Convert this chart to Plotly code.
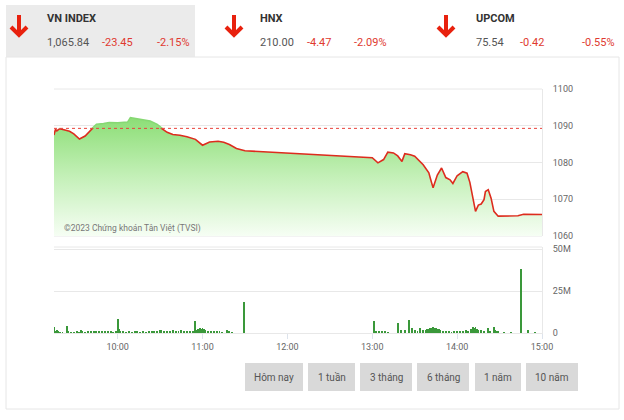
import plotly.graph_objects as go

DAY = "2023-10-05 "

# ---------------- data ----------------
ref_close = 1089.29

price_times = ["09:15","09:16","09:17","09:19","09:22","09:26","09:29","09:33","09:37","09:42",
               "09:45","09:50","09:54","10:00","10:07","10:09","10:13","10:17","10:23","10:28",
               "10:31","10:35","10:39","10:44","10:49","10:55","11:00","11:05","11:11","11:15",
               "11:19","11:24","11:28","11:30","13:00","13:04","13:08","13:11","13:15","13:18",
               "13:21","13:23","13:27","13:30","13:36","13:40","13:41","13:43","13:46","13:49",
               "13:52","13:55","13:57","14:00","14:04","14:07","14:09","14:11","14:13","14:15",
               "14:17","14:19","14:20","14:22","14:24","14:26","14:27","14:29","14:43","14:47",
               "15:00"]
price_vals = [1087.5,1089.0,1088.6,1089.2,1088.9,1088.5,1087.8,1086.4,1087.2,1089.3,
              1090.4,1090.6,1090.9,1090.8,1091.0,1092.2,1091.9,1091.6,1091.3,1090.4,
              1089.3,1088.2,1087.6,1087.4,1087.0,1086.3,1084.7,1085.6,1085.8,1085.5,
              1084.9,1083.8,1083.3,1083.2,1081.3,1079.9,1080.8,1082.8,1082.6,1081.8,
              1080.3,1082.4,1082.1,1081.7,1079.4,1077.2,1075.8,1073.1,1076.6,1078.5,
              1075.9,1075.3,1074.3,1076.4,1077.5,1077.1,1074.6,1070.5,1066.7,1068.4,
              1068.7,1069.9,1072.1,1072.6,1070.3,1066.7,1066.2,1065.4,1065.5,1065.9,
              1065.84]

vol_times = ["09:15","09:16","09:17","09:18","09:19","09:21","09:24","09:25","09:27","09:29",
             "09:31","09:33","09:34","09:35","09:37","09:39","09:41","09:43","09:45","09:47",
             "09:49","09:51","09:53","09:55","09:57","09:59","10:00","10:01","10:02","10:04",
             "10:06","10:08","10:10","10:12","10:14","10:16","10:18","10:20","10:22","10:24",
             "10:26","10:28","10:30","10:31","10:33","10:35","10:37","10:39","10:41","10:43",
             "10:45","10:47","10:49","10:51","10:53","10:55","10:56","10:57","10:58","10:59",
             "11:00","11:01","11:02","11:04","11:06","11:08","11:10","11:12","11:14","11:17",
             "11:19","11:21","11:29",
             "13:01","13:02","13:03","13:05","13:07","13:09","13:11","13:18","13:20","13:23",
             "13:26","13:28","13:30","13:32","13:34","13:36","13:38","13:39","13:40","13:41",
             "13:42","13:43","13:44","13:45","13:46","13:47","13:48","13:50","13:52","13:54",
             "13:56","13:58","14:00","14:02","14:04","14:06","14:08","14:10","14:11","14:12",
             "14:13","14:14","14:15","14:17","14:19","14:22","14:23","14:26","14:27","14:28",
             "14:29","14:33","14:38","14:45","14:50","14:55"]
vol_vals_m = [3.5,1.0,1.5,0.8,0.5,0.4,4.2,0.8,0.5,0.5,
              0.6,0.5,1.5,1.0,0.5,0.6,0.8,0.6,0.7,0.8,
              0.6,0.8,0.7,0.6,0.5,0.8,8.3,2.5,1.0,0.6,
              0.5,0.6,0.5,0.6,0.7,0.5,0.6,0.5,0.6,0.8,
              1.0,0.8,1.5,2.0,1.2,1.0,0.8,1.5,0.8,0.6,
              2.0,0.7,0.6,0.8,0.6,7.1,1.5,2.5,3.0,2.5,
              3.2,2.2,1.5,1.0,0.8,0.7,0.6,0.7,0.5,2.0,
              0.6,0.5,18.5,
              7.0,1.0,0.8,0.6,0.7,0.6,0.5,6.0,2.0,1.5,
              7.7,3.0,1.5,1.0,3.0,2.0,1.5,2.5,2.2,3.0,
              2.8,3.6,3.0,3.2,2.6,2.5,2.0,1.0,0.6,0.8,
              0.5,1.0,0.8,1.2,1.0,1.5,1.2,2.5,3.5,3.0,
              3.5,2.5,2.0,1.5,1.2,3.0,1.2,3.5,1.5,1.0,
              1.0,0.5,0.5,38.0,1.5,0.5]

y_ticks = [1060, 1070, 1080, 1090, 1100]
vol_ticks = [0, 25e6, 50e6]
vol_ticktext = ["0", "25M", "50M"]
x_ticks = ["10:00", "11:00", "12:00", "13:00", "14:00", "15:00"]

header = [
    # name, value, change, pct, arrow x, text x, change x, pct x
    ("VN INDEX", "1,065.84", "-23.45", "-2.15%", 19, 45, 100, 155),
    ("HNX", "210.00", "-4.47", "-2.09%", 234, 258, 305, 352),
    ("UPCOM", "75.54", "-0.42", "-0.55%", 446, 474, 518, 580),
]
buttons = [("Hôm nay", 245, 303), ("1 tuần", 308, 355), ("3 tháng", 360, 412),
           ("6 tháng", 417, 469), ("1 năm", 475, 521), ("10 năm", 526, 578)]

# ---------------- geometry helpers ----------------
W, H = 624, 420
ML, MR, MT, MB = 54, 82, 89, 87
PW, PH = W - ML - MR, H - MT - MB
def px(x):
    return (x - ML) / PW
def py(y):
    return (H - MB - y) / PH

price_dom = [(H - MB - 236) / PH, 1.0]
vol_dom = [0.0, (H - MB - 247) / PH]
yr = [1060, 1100]
thr_frac = price_dom[0] + (ref_close - yr[0]) / (yr[1] - yr[0]) * (price_dom[1] - price_dom[0])

t_price = [DAY + t for t in price_times]
t_vol = [DAY + t for t in vol_times]
vol_vals = [v * 1e6 for v in vol_vals_m]

fig = go.Figure()
# base for gradient fill
fig.add_trace(go.Scatter(x=[t_price[0], t_price[-1]], y=[yr[0], yr[0]], mode="lines",
                         line=dict(width=0), hoverinfo="skip", showlegend=False, yaxis="y"))
fig.add_trace(go.Scatter(x=t_price, y=price_vals, mode="lines", line=dict(width=0),
                         fill="tonexty",
                         fillgradient=dict(type="vertical",
                                           colorscale=[[0, "rgb(246,254,244)"], [0.5, "rgb(196,240,184)"],
                                                       [1, "rgb(140,222,118)"]]),
                         showlegend=False, yaxis="y"))
# green part of line (above reference), clipped via its own axis domain
fig.add_trace(go.Scatter(x=t_price, y=price_vals, mode="lines",
                         line=dict(color="#86d873", width=1.5), showlegend=False, yaxis="y3"))
# red part of line (below reference)
fig.add_trace(go.Scatter(x=t_price, y=price_vals, mode="lines",
                         line=dict(color="#dd2c1e", width=1.6), showlegend=False, yaxis="y4"))
# volume
fig.add_trace(go.Bar(x=t_vol, y=vol_vals, width=40000, marker=dict(color="#3a983a", line=dict(width=0)),
                     showlegend=False, yaxis="y2"))

grid = "#e8e8e8"
fig.update_layout(
    width=W, height=H, margin=dict(l=ML, r=MR, t=MT, b=MB),
    paper_bgcolor="white", plot_bgcolor="rgba(0,0,0,0)",
    font=dict(family="Roboto", size=9, color="#666"),
    bargap=0,
    xaxis=dict(type="date", range=[DAY + "09:15", DAY + "15:00"], anchor="y2",
               tickvals=[DAY + t for t in x_ticks], ticktext=x_ticks,
               showgrid=False, showline=True, linecolor=grid, ticks="outside", ticklen=5,
               tickcolor="#dde3ec", tickfont=dict(size=9, color="#666"), zeroline=False),
    yaxis=dict(domain=price_dom, range=yr, side="right", tickvals=y_ticks, showgrid=True,
               gridcolor=grid, showline=True, linecolor=grid, ticks="outside", ticklen=8,
               tickcolor="rgba(0,0,0,0)", zeroline=False, tickfont=dict(size=9, color="#666")),
    yaxis2=dict(domain=vol_dom, range=[0, 51.2e6], side="right", tickvals=vol_ticks,
                ticktext=vol_ticktext, showgrid=True, gridcolor=grid, showline=True,
                linecolor=grid, ticks="outside", ticklen=8, tickcolor="rgba(0,0,0,0)",
                zeroline=False, tickfont=dict(size=9, color="#666")),
    yaxis3=dict(domain=[thr_frac, 1.0], range=[ref_close, yr[1]], visible=False, anchor="x"),
    yaxis4=dict(domain=[price_dom[0], thr_frac], range=[yr[0], ref_close], visible=False, anchor="x"),
)

shapes = []
# header grey box
shapes.append(dict(type="rect", xref="paper", yref="paper", x0=px(6), x1=px(195), y0=py(57), y1=py(5),
                   fillcolor="#ebebeb", line=dict(width=0), layer="below"))
# panel border
shapes.append(dict(type="rect", xref="paper", yref="paper", x0=px(6), x1=px(619), y0=py(409), y1=py(57),
                   fillcolor="rgba(0,0,0,0)", line=dict(color="#e6e6e6", width=1), layer="below"))
# plot box tops/bottoms
for yy in (89, 236, 247):
    shapes.append(dict(type="line", xref="paper", yref="paper", x0=0, x1=1, y0=py(yy), y1=py(yy),
                       line=dict(color=grid, width=1), layer="below"))
# reference close dotted line
shapes.append(dict(type="line", xref="paper", yref="y", x0=0, x1=1, y0=ref_close, y1=ref_close,
                   line=dict(color="#e8413a", width=1, dash="dot")))
# arrows
for name, val, chg, pct, ax, tx, cx, pcx in header:
    top, bot = 15, 35
    path = (f"M {px(ax)},{py(top)} L {px(ax)},{py(bot)} "
            f"M {px(ax-8)},{py(bot-8)} L {px(ax)},{py(bot)} L {px(ax+8)},{py(bot-8)}")
    shapes.append(dict(type="path", xref="paper", yref="paper", path=path,
                       line=dict(color="#e8210e", width=4)))
# buttons
for label, x0, x1 in buttons:
    shapes.append(dict(type="rect", xref="paper", yref="paper", x0=px(x0), x1=px(x1), y0=py(391), y1=py(363),
                       fillcolor="#d9d9d9", line=dict(width=0), layer="below"))

ann = []
for name, val, chg, pct, ax, tx, cx, pcx in header:
    ann.append(dict(x=px(tx), y=py(18), text=f"<b>{name}</b>", font=dict(size=11, color="#333")))
    ann.append(dict(x=px(tx), y=py(43), text=val, font=dict(size=11, color="#555")))
    ann.append(dict(x=px(cx), y=py(43), text=chg, font=dict(size=11, color="#e03a30")))
    ann.append(dict(x=px(pcx), y=py(43), text=pct, font=dict(size=11, color="#e03a30")))
for label, x0, x1 in buttons:
    ann.append(dict(x=px((x0 + x1) / 2), y=py(377), text=label, xanchor="center",
                    font=dict(size=10, color="#555")))
ann.append(dict(x=px(62), y=py(228), text="©2023 Chứng khoán Tân Việt (TVSI)",
                font=dict(size=8.5, color="#777")))
for a in ann:
    a.setdefault("xanchor", "left")
    a.update(xref="paper", yref="paper", yanchor="middle", showarrow=False)

fig.update_layout(shapes=shapes, annotations=ann)
fig.write_html("out.html")
